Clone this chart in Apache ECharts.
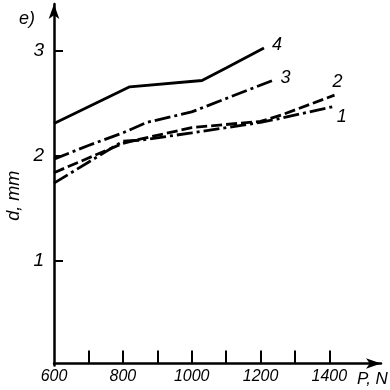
<!DOCTYPE html>
<html>
<head>
<meta charset="utf-8">
<script src="https://cdn.jsdelivr.net/npm/echarts@6/dist/echarts.min.js"></script>
<style>
html,body{margin:0;padding:0;background:#fff;}
#c{width:390px;height:390px;}
</style>
</head>
<body>
<div id="c"></div>
<script>
// Tick positions and labels
const xTickValues = [700, 800, 900, 1000, 1100, 1200, 1300, 1400];
const xLabelValues = [600, 800, 1000, 1200, 1400];
const yTickValues = [1, 2, 3];

// Curve 1 (dash-dot)
const c1X = [600, 700, 800, 850, 1000, 1200, 1260, 1410];
const c1Y = [1.74, 1.94, 2.14, 2.15, 2.22, 2.32, 2.36, 2.47];
// Curve 2 (dashed)
const c2X = [600, 700, 800, 850, 1000, 1200, 1260, 1415];
const c2Y = [1.84, 1.98, 2.12, 2.16, 2.27, 2.33, 2.39, 2.58];
// Curve 3 (dash-dot)
const c3X = [600, 700, 800, 870, 1000, 1235];
const c3Y = [1.97, 2.10, 2.22, 2.32, 2.42, 2.72];
// Curve 4 (solid)
const c4X = [600, 820, 1030, 1100, 1210];
const c4Y = [2.31, 2.66, 2.72, 2.84, 3.03];

const seriesLabels = ['1', '2', '3', '4'];

function pairs(xs, ys) { return xs.map((x, i) => [x, ys[i]]); }

const font = 'Liberation Sans';
const chart = echarts.init(document.getElementById('c'), null, {renderer: 'canvas'});

function mk(name, data, type, offset) {
  return {
    name: name,
    type: 'line',
    data: data,
    symbol: 'none',
    smooth: false,
    lineStyle: {color: '#000', width: 2.8, type: type, cap: 'butt'},
    endLabel: {
      show: true,
      formatter: name,
      fontFamily: font,
      fontStyle: 'italic',
      fontSize: 18,
      color: '#000',
      offset: offset
    },
    animation: false
  };
}

chart.setOption({
  animation: false,
  backgroundColor: '#fff',
  grid: {left: 54, right: 9, top: 4, bottom: 24.5, containLabel: false, outerBoundsMode: 'none'},
  xAxis: {
    type: 'value',
    min: 600,
    max: 1550,
    interval: 100,
    offset: -2,
    splitLine: {show: false},
    axisLine: {
      show: true,
      symbol: ['none', 'arrow'],
      symbolSize: [8, 15],
      lineStyle: {color: '#000', width: 2.5}
    },
    axisTick: {
      show: true, inside: true, length: 13,
      customValues: xTickValues,
      lineStyle: {color: '#000', width: 2}
    },
    axisLabel: {
      customValues: xLabelValues,
      formatter: function (v) { return String(v); },
      fontFamily: font, fontStyle: 'italic', fontSize: 16, color: '#000', margin: 5
    },
    name: 'P, N',
    nameLocation: 'end',
    nameGap: -24,
    nameTextStyle: {
      fontFamily: font, fontStyle: 'italic', fontSize: 17, color: '#000',
      verticalAlign: 'top', align: 'left', padding: [7, 0, 0, 0]
    }
  },
  yAxis: {
    type: 'value',
    min: 0,
    max: 3.45,
    interval: 1,
    splitLine: {show: false},
    axisLine: {
      show: true,
      symbol: ['none', 'arrow'],
      symbolSize: [8, 15],
      lineStyle: {color: '#000', width: 2.5}
    },
    axisTick: {
      show: true, inside: true, length: 9,
      customValues: yTickValues,
      lineStyle: {color: '#000', width: 2}
    },
    axisLabel: {
      customValues: yTickValues,
      formatter: function (v) { return String(v); },
      fontFamily: font, fontStyle: 'italic', fontSize: 19, color: '#000', margin: 10
    },
    name: 'd, mm',
    nameLocation: 'middle',
    nameGap: 30,
    nameTextStyle: {
      fontFamily: font, fontStyle: 'italic', fontSize: 18, color: '#000',
      padding: [0, 22, 0, 0]
    }
  },
  graphic: [{
    type: 'text',
    left: 19,
    top: 10,
    style: {text: 'e)', font: 'italic 18px "Liberation Sans"', fill: '#000'}
  }],
  series: [
    mk(seriesLabels[0], pairs(c1X, c1Y), [16, 4, 3, 4], [-4, 10]),
    mk(seriesLabels[1], pairs(c2X, c2Y), [11, 4], [-10, -13]),
    mk(seriesLabels[2], pairs(c3X, c3Y), [16, 4, 3, 4], [0, -2]),
    mk(seriesLabels[3], pairs(c4X, c4Y), 'solid', [0, -3])
  ]
});
</script>
</body>
</html>
